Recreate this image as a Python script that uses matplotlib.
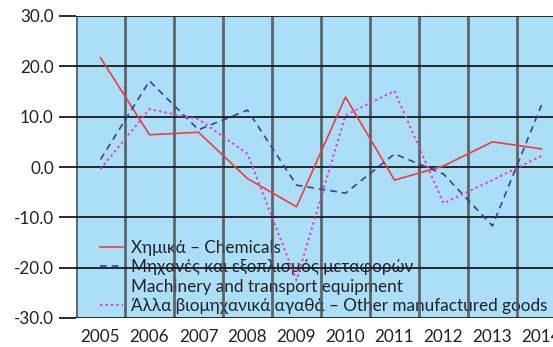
import matplotlib.pyplot as plt
from matplotlib.lines import Line2D
import numpy as np

plt.rcParams['font.family'] = ['Lato', 'Noto Sans', 'DejaVu Sans']

years = ['2005', '2006', '2007', '2008', '2009', '2010', '2011', '2012', '2013', '2014']
chemicals = [21.7, 6.4, 6.9, -2.3, -7.9, 13.9, -2.6, 0.2, 5.0, 3.6]
machinery = [1.5, 17.1, 7.4, 11.3, -3.6, -5.2, 2.6, -1.4, -11.7, 12.3]
other_goods = [-0.4, 11.5, 9.5, 2.6, -22.5, 10.3, 15.1, -7.2, -2.6, 2.2]

labels = ['Χημικά – Chemicals',
          'Μηχανές και εξοπλισμός μεταφορών',
          'Machinery and transport equipment',
          'Άλλα βιομηχανικά αγαθά – Other manufactured goods']

fs = 12.3
fig = plt.figure(figsize=(5.53, 3.47), dpi=100)
ax = fig.add_axes([76 / 553, 29 / 347, 490 / 553, 302 / 347])
ax.set_facecolor('#abdff8')

x = np.arange(len(years))
l1, = ax.plot(x, chemicals, color='#f03c3c', lw=1.2, zorder=4)
l2, = ax.plot(x, machinery, color='#3a3f9a', lw=1.2, ls=(0, (4, 3)), zorder=4)
l3, = ax.plot(x, other_goods, color='#e83cc0', lw=1.4, ls=(0, (1.2, 1.6)), zorder=4)

ax.set_xlim(-0.5, len(years) - 0.5)
ax.set_ylim(-30, 30)

# grid: grey verticals between years, black horizontals
for b in np.arange(-0.5, len(years), 1.0):
    ax.axvline(b, color='#505050', lw=2.0, alpha=0.85, zorder=3)
for v in range(-30, 31, 10):
    ax.axhline(v, color='#1a1a1a', lw=1.3, zorder=3)

ax.set_xticks(x)
ax.set_xticklabels(years, fontsize=fs, color='#222222')
ax.set_yticks(range(-30, 31, 10))
ax.set_yticklabels(['%.1f' % v for v in range(-30, 31, 10)], fontsize=fs, color='#222222')
ax.tick_params(axis='x', length=0, pad=8)
ax.tick_params(axis='y', length=12, width=1.3, color='#1a1a1a', pad=4)

for s in ax.spines.values():
    s.set_visible(False)

# the two-line label gets a blank handle on its second line
blank = Line2D([], [], color='none')
leg = ax.legend([l1, l2, blank, l3], labels, loc='lower left',
                bbox_to_anchor=(24 / 490, 4 / 302), frameon=False,
                fontsize=fs, handlelength=1.35, handletextpad=0.45,
                labelspacing=0.2, borderaxespad=0, borderpad=0,
                labelcolor='#222222')
leg.set_zorder(2)

fig.savefig('out.png', dpi=100)
